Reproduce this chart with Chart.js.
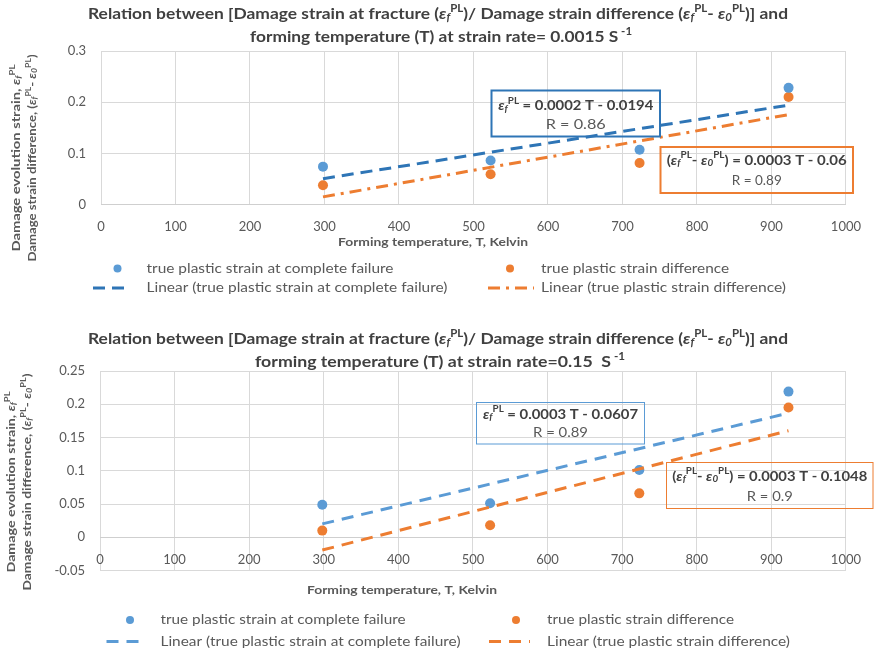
<!DOCTYPE html>
<html>
<head>
<meta charset="utf-8">
<script src="https://cdn.jsdelivr.net/npm/chart.js@4.4.1/dist/chart.umd.min.js"></script>
<style>
  html, body { margin: 0; padding: 0; background: #ffffff; }
  #page { position: relative; width: 876px; height: 653px; overflow: hidden; background: #ffffff; }
  canvas { position: absolute; left: 0; }
  #slowChart { top: 0; }
  #fastChart { top: 320px; }
</style>
</head>
<body>
<div id="page">
  <canvas id="slowChart" width="876" height="320"></canvas>
  <canvas id="fastChart" width="876" height="333"></canvas>
</div>
<script>
// ---- data -------------------------------------------------------------
const temperatureK = [298, 523, 723, 923];

const xTickValues = [0, 100, 200, 300, 400, 500, 600, 700, 800, 900, 1000];
const xTickLabels = ['0', '100', '200', '300', '400', '500', '600', '700', '800', '900', '1000'];

const yTickValuesSlow = [0, 0.1, 0.2, 0.3];
const yTickLabelsSlow = ['0', '0.1', '0.2', '0.3'];
const yTickValuesFast = [-0.05, 0, 0.05, 0.1, 0.15, 0.2, 0.25];
const yTickLabelsFast = ['-0.05', '0', '0.05', '0.1', '0.15', '0.2', '0.25'];

// strain rate 0.0015 s^-1
const failureStrainSlow = [0.074, 0.086, 0.107, 0.228];
const strainDiffSlow = [0.0375, 0.059, 0.081, 0.210];
// strain rate 0.15 s^-1
const failureStrainFast = [0.049, 0.051, 0.101, 0.219];
const strainDiffFast = [0.010, 0.018, 0.066, 0.195];

const trendEquationsSlow = ['= 0.0002 T - 0.0194', '= 0.0003 T - 0.06'];
const trendRSlow = ['R = 0.86', 'R = 0.89'];
const trendEquationsFast = ['= 0.0003 T - 0.0607', '= 0.0003 T - 0.1048'];
const trendRFast = ['R = 0.89', 'R = 0.9'];

const seriesNames = [
  'true plastic strain at complete failure',
  'true plastic strain difference',
  'Linear (true plastic strain at complete failure)',
  'Linear (true plastic strain difference)'
];
const strainRateTexts = ['forming temperature (T) at strain rate= 0.0015 S', 'forming temperature (T) at strain rate=0.15  S'];
const xAxisTitle = 'Forming temperature, T, Kelvin';

// ---- styling ----------------------------------------------------------
const FONT = 'Lato, "Open Sans", "Liberation Sans", sans-serif';
const BLUE = '#5B9BD5';
const DARK_BLUE = '#2E75B6';
const ORANGE = '#ED7D31';
const GRID = '#d9d9d9';
const AXIS_LINE = '#cfcfcf';
const LABEL_GRAY = '#595959';
const TITLE_GRAY = '#404040';

// ---- least-squares trend line over the measured points ----------------
function linearFit(xs, ys) {
  const n = xs.length;
  const mx = xs.reduce((a, b) => a + b, 0) / n;
  const my = ys.reduce((a, b) => a + b, 0) / n;
  let sxy = 0, sxx = 0;
  for (let i = 0; i < n; i++) { sxy += (xs[i] - mx) * (ys[i] - my); sxx += (xs[i] - mx) ** 2; }
  const slope = sxy / sxx;
  return { slope, intercept: my - slope * mx };
}
function trendPoints(xs, ys) {
  const f = linearFit(xs, ys);
  const lo = Math.min(...xs), hi = Math.max(...xs);
  return [{ x: lo, y: f.intercept + f.slope * lo }, { x: hi, y: f.intercept + f.slope * hi }];
}
function toPoints(xs, ys) { return xs.map((x, i) => ({ x, y: ys[i] })); }

// ---- rich text (epsilon with sub/superscripts) ------------------------
function eps(sub) {
  return [{ t: 'ε', i: true }, { t: sub, i: true, v: 'sub' }, { t: 'PL', v: 'sup' }];
}
function txt(t) { return [{ t }]; }
function segFont(s, size, weight) {
  const sz = s.v ? size * 0.66 : size;
  return (s.i ? 'italic ' : '') + weight + ' ' + sz.toFixed(2) + 'px ' + FONT;
}
function drawRich(ctx, segs, x, y, o) {
  ctx.save();
  const widths = [];
  let total = 0;
  segs.forEach(s => {
    ctx.font = segFont(s, o.size, o.weight || 'normal');
    const w = ctx.measureText(s.t).width;
    widths.push(w); total += w;
  });
  const sx = o.width ? o.width / total : 1;
  ctx.translate(x, y);
  if (o.rotate) ctx.rotate(o.rotate);
  ctx.scale(sx, 1);
  let cx = o.align === 'left' ? 0 : -total / 2;
  ctx.textAlign = 'left';
  ctx.textBaseline = 'middle';
  ctx.fillStyle = o.color;
  segs.forEach((s, k) => {
    ctx.font = segFont(s, o.size, o.weight || 'normal');
    const dy = s.v === 'sup' ? -0.33 * o.size : (s.v === 'sub' ? 0.24 * o.size : 0);
    ctx.fillText(s.t, cx, dy);
    cx += widths[k];
  });
  ctx.restore();
}

const titleLine1 = [].concat(
  txt('Relation between [Damage strain at fracture ('), eps('f'),
  txt(')/ Damage strain difference ('), eps('f'), txt('- '), eps('0'), txt(')] and'));
function titleLine2(k) { return [].concat(txt(strainRateTexts[k]), [{ t: ' -1', v: 'sup' }]); }
const yTitle1 = [].concat(txt('Damage evolution strain, '), eps('f'));
const yTitle2 = [].concat(txt('Damage strain difference, ('), eps('f'), txt('- '), eps('0'), txt(')'));
function eqFailure(eq) { return [].concat(eps('f'), txt(' ' + eq)); }
function eqDiff(eq) { return [].concat(txt('('), eps('f'), txt('- '), eps('0'), txt(') ' + eq)); }

// ---- titles, axis titles, legend and fit boxes ------------------------
function decorPlugin(d) {
  return {
    id: 'decor',
    afterDatasetsDraw(chart) {
      const ctx = chart.ctx;
      d.boxes.forEach(b => {
        ctx.save();
        ctx.strokeStyle = b.color;
        ctx.lineWidth = b.lw;
        ctx.strokeRect(b.x, b.y, b.w, b.h);
        ctx.restore();
        const cx = b.x + b.w / 2;
        drawRich(ctx, b.line1, cx, b.y1, { size: 14, weight: 'bold', color: TITLE_GRAY, width: b.w1 });
        drawRich(ctx, txt(b.line2), cx, b.y2, { size: 14, color: LABEL_GRAY, width: b.w2 });
      });
    },
    afterDraw(chart) {
      const ctx = chart.ctx;
      // chart title
      drawRich(ctx, titleLine1, d.title[0].cx, d.title[0].y, { size: 16, weight: 'bold', color: TITLE_GRAY, width: d.title[0].w });
      drawRich(ctx, titleLine2(d.rateIndex), d.title[1].cx, d.title[1].y, { size: 16, weight: 'bold', color: TITLE_GRAY, width: d.title[1].w });
      // y axis title (two rotated lines)
      drawRich(ctx, yTitle1, d.yTitle.x1, d.yTitle.cy, { size: 12, weight: 'bold', color: LABEL_GRAY, width: d.yTitle.w1, rotate: -Math.PI / 2 });
      drawRich(ctx, yTitle2, d.yTitle.x2, d.yTitle.cy, { size: 12, weight: 'bold', color: LABEL_GRAY, width: d.yTitle.w2, rotate: -Math.PI / 2 });
      // x axis title
      drawRich(ctx, txt(xAxisTitle), d.xTitle.cx, d.xTitle.y, { size: 12, weight: 'bold', color: LABEL_GRAY, width: d.xTitle.w });
      // legend
      const ds = chart.data.datasets;
      const L = d.legend;
      [0, 1].forEach(k => {
        const col = L.cols[k];
        // marker entry
        ctx.save();
        ctx.fillStyle = ds[k].backgroundColor;
        ctx.beginPath();
        ctx.arc(col.dot, L.rows[0], 4, 0, Math.PI * 2);
        ctx.fill();
        // trend line entry
        ctx.strokeStyle = ds[k + 2].borderColor;
        ctx.lineWidth = ds[k + 2].borderWidth;
        ctx.setLineDash(ds[k + 2].borderDash);
        ctx.beginPath();
        ctx.moveTo(col.dash[0], L.rows[1]);
        ctx.lineTo(col.dash[1], L.rows[1]);
        ctx.stroke();
        ctx.restore();
        drawRich(ctx, txt(seriesNames[k]), col.text, L.rows[0], { size: 13, color: LABEL_GRAY, align: 'left', width: col.w[0] });
        drawRich(ctx, txt(seriesNames[k + 2]), col.text, L.rows[1], { size: 13, color: LABEL_GRAY, align: 'left', width: col.w[1] });
      });
    }
  };
}

function buildChart(id, c) {
  return new Chart(document.getElementById(id), {
    type: 'scatter',
    data: {
      datasets: [
        { label: seriesNames[0], data: toPoints(temperatureK, c.failure), backgroundColor: BLUE, borderColor: BLUE,
          pointRadius: 5, pointHoverRadius: 5, borderWidth: 0, order: 2 },
        { label: seriesNames[1], data: toPoints(temperatureK, c.diff), backgroundColor: ORANGE, borderColor: ORANGE,
          pointRadius: 5, pointHoverRadius: 5, borderWidth: 0, order: 2 },
        { type: 'line', label: seriesNames[2], data: trendPoints(temperatureK, c.failure), borderColor: c.blueLine,
          backgroundColor: c.blueLine, borderWidth: 3, borderDash: c.blueDash, pointRadius: 0, fill: false, order: 1 },
        { type: 'line', label: seriesNames[3], data: trendPoints(temperatureK, c.diff), borderColor: ORANGE,
          backgroundColor: ORANGE, borderWidth: 3, borderDash: c.orangeDash, pointRadius: 0, fill: false, order: 1 }
      ]
    },
    options: {
      responsive: false,
      animation: false,
      events: [],
      layout: { padding: c.padding, autoPadding: false },
      plugins: { legend: { display: false }, title: { display: false }, tooltip: { enabled: false } },
      scales: {
        x: {
          type: 'linear', axis: 'x', position: c.xPosition, min: 0, max: 1000,
          afterBuildTicks: s => { s.ticks = xTickValues.map(v => ({ value: v })); },
          afterFit: s => { s.height = 30; },
          ticks: { padding: 15, color: LABEL_GRAY, font: { family: FONT, size: 13 }, maxRotation: 0, autoSkip: false,
                   callback: (v, i) => xTickLabels[i] },
          grid: { color: GRID, drawTicks: false, lineWidth: 1 },
          border: { display: true, color: AXIS_LINE, width: 1 }
        },
        y: {
          type: 'linear', position: 'left', min: c.yTicks[0], max: c.yTicks[c.yTicks.length - 1],
          afterBuildTicks: s => { s.ticks = c.yTicks.map(v => ({ value: v })); },
          afterFit: s => { s.width = c.yWidth; },
          ticks: { padding: 15, color: LABEL_GRAY, font: { family: FONT, size: 13 }, autoSkip: false,
                   callback: (v, i) => c.yLabels[i] },
          grid: { color: GRID, drawTicks: false, lineWidth: 1 },
          border: { display: false }
        }
      }
    },
    plugins: [decorPlugin(c.decor)]
  });
}

// strain rate 0.0015 s^-1
buildChart('slowChart', {
  failure: failureStrainSlow, diff: strainDiffSlow,
  yTicks: yTickValuesSlow, yLabels: yTickLabelsSlow,
  blueLine: DARK_BLUE, blueDash: [12, 7], orangeDash: [12, 6, 3, 6],
  xPosition: 'bottom', yWidth: 101,
  padding: { left: 0, right: 22, top: 51, bottom: 85.5 },
  decor: {
    rateIndex: 0,
    title: [{ cx: 438, y: 14, w: 700 }, { cx: 441, y: 37, w: 382 }],
    yTitle: { x1: 16, x2: 32, cy: 158, w1: 187, w2: 207 },
    xTitle: { cx: 433, y: 242, w: 190 },
    legend: {
      rows: [268.5, 288],
      cols: [
        { dot: 117.5, dash: [93, 130], text: 146.5, w: [247, 301] },
        { dot: 510, dash: [488, 534], text: 541, w: [188, 245] }
      ]
    },
    boxes: [
      { x: 491.5, y: 90.5, w: 168.5, h: 46, color: DARK_BLUE, lw: 2,
        line1: eqFailure(trendEquationsSlow[0]), y1: 105.5, w1: 155, line2: trendRSlow[0], y2: 124.5, w2: 60 },
      { x: 660.5, y: 147, w: 192.5, h: 46, color: ORANGE, lw: 2,
        line1: eqDiff(trendEquationsSlow[1]), y1: 160, w1: 180, line2: trendRSlow[1], y2: 180, w2: 50 }
    ]
  }
});

// strain rate 0.15 s^-1
buildChart('fastChart', {
  failure: failureStrainFast, diff: strainDiffFast,
  yTicks: yTickValuesFast, yLabels: yTickLabelsFast,
  blueLine: BLUE, blueDash: [12, 8], orangeDash: [12, 8],
  xPosition: { y: 0 }, yWidth: 100,
  padding: { left: 0, right: 26, top: 51, bottom: 82.5 },
  decor: {
    rateIndex: 1,
    title: [{ cx: 438, y: 19, w: 700 }, { cx: 440, y: 42, w: 370 }],
    yTitle: { x1: 11, x2: 27, cy: 162, w1: 181, w2: 217 },
    xTitle: { cx: 402, y: 270, w: 190 },
    legend: {
      rows: [300, 321.5],
      cols: [
        { dot: 130, dash: [106.5, 145], text: 160.5, w: [245, 300] },
        { dot: 516, dash: [489, 530], text: 547, w: [187, 243] }
      ]
    },
    boxes: [
      { x: 476.5, y: 82.5, w: 168, h: 41.5, color: BLUE, lw: 1,
        line1: eqFailure(trendEquationsFast[0]), y1: 94, w1: 155, line2: trendRFast[0], y2: 112.5, w2: 55 },
      { x: 666.5, y: 142.5, w: 206.5, h: 46, color: ORANGE, lw: 1,
        line1: eqDiff(trendEquationsFast[1]), y1: 156, w1: 195, line2: trendRFast[1], y2: 176.5, w2: 46 }
    ]
  }
});
</script>
</body>
</html>
